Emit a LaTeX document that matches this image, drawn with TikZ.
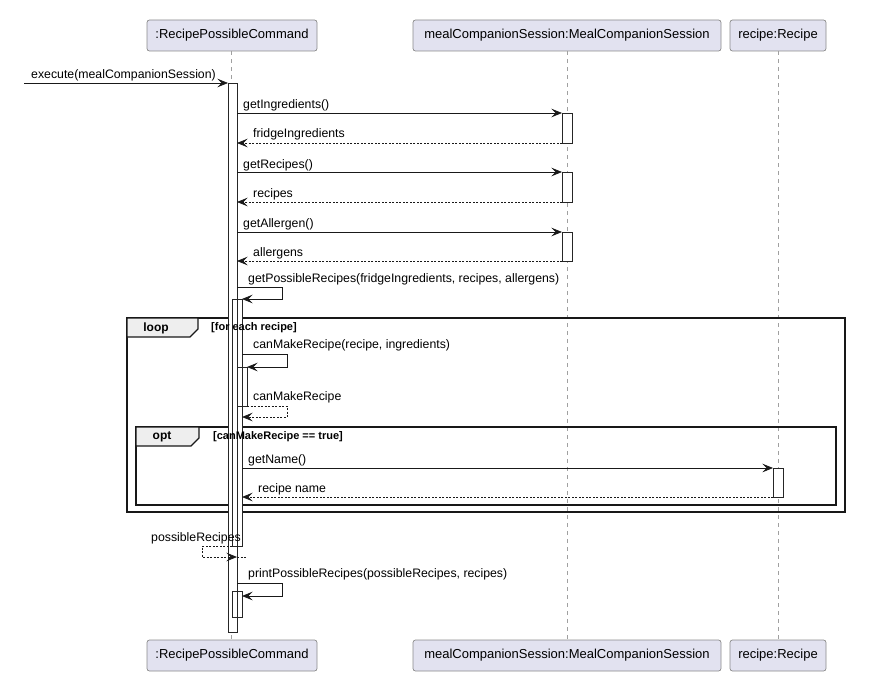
\documentclass[tikz,border=0pt]{standalone}
\usepackage{fontspec}
\setmainfont{Liberation Sans}
\usetikzlibrary{arrows.meta}
\definecolor{partfill}{HTML}{E2E2F0}
\definecolor{partline}{HTML}{8A8A8A}
\definecolor{lifecol}{HTML}{A0A0A0}
\definecolor{tabfill}{HTML}{EEEEEE}
\definecolor{framecol}{HTML}{181818}
\begin{document}
\begin{tikzpicture}[x=1pt,y=-1pt,
 part/.style={draw=partline, fill=partfill, rounded corners=2.5pt, minimum height=31pt, inner sep=0pt, font=\fontsize{13pt}{15pt}\selectfont, line width=0.7pt},
 life/.style={draw=lifecol, dash pattern=on 4pt off 4pt, line width=0.8pt},
 act/.style={fill=white, inner sep=0pt, outer sep=0pt, minimum width=10pt, anchor=north west},
 actline/.style={draw=black!85, line width=0.7pt},
 msg/.style={draw=black!90, line width=0.8pt, -{Stealth[length=10.5pt,width=8.5pt,inset=4pt]}},
 ret/.style={msg, dash pattern=on 2pt off 1.5pt},
 retline/.style={draw=black!90, line width=0.8pt, dash pattern=on 2pt off 1.5pt},
 lbl/.style={anchor=base west, inner sep=0pt, font=\fontsize{12.3pt}{14pt}\selectfont},
 fr/.style={draw=framecol, line width=1.4pt},
 tabshape/.style={fill=tabfill, draw=framecol, line width=1.4pt},
 frlbl/.style={inner sep=0pt, font=\bfseries\fontsize{12pt}{14pt}\selectfont},
 guard/.style={anchor=west, inner sep=0pt, font=\bfseries\fontsize{11pt}{13pt}\selectfont}
]
\useasboundingbox (0,0) rectangle (869,693);

% participants
\node[part, minimum width=170pt] (p1) at (232,35.5) {:RecipePossibleCommand};
\node[part, minimum width=308pt] (p2) at (567,35.5) {mealCompanionSession:MealCompanionSession};
\node[part, minimum width=96pt] (p3) at (778,35.5) {recipe:Recipe};
\node[part, minimum width=170pt] (q1) at (232,655.5) {:RecipePossibleCommand};
\node[part, minimum width=308pt] (q2) at (567,655.5) {mealCompanionSession:MealCompanionSession};
\node[part, minimum width=96pt] (q3) at (778,655.5) {recipe:Recipe};

% lifelines
\draw[life] ([xshift=-1pt]p1.south) -- ([xshift=-1pt]q1.north);
\draw[life] (p2.south) -- (q2.north);
\draw[life] (p3.south) -- (q3.north);

% frames
\draw[fr] (127,318) rectangle (845,512);
\draw[tabshape] (127,318) -- (198,318) -- (198,329) -- (190,337) -- (127,337) -- cycle;
\draw[fr] (136,427) rectangle (836,505);
\draw[tabshape] (136,427) -- (199,427) -- (199,438) -- (191,446) -- (136,446) -- cycle;

% activations
\node[act, minimum width=9pt, minimum height=549pt] (a1) at (228,83) {};
\node[act, minimum height=30pt] (a2) at (562,113) {};
\node[act, minimum height=30pt] (a3) at (562,172) {};
\node[act, minimum height=29pt] (a4) at (562,232) {};
\node[act, minimum height=247pt] (a5) at (232,299) {};
\node[act, minimum height=39pt] (a6) at (237,367) {};
\node[act, minimum height=29pt] (a7) at (773,468) {};
\node[act, minimum height=26pt] (a8) at (232,591) {};
\foreach \n in {a1,a2,a3,a4,a5,a6,a7,a8}
  \draw[actline] (\n.south west) rectangle (\n.north east);

% messages
\coordinate (src) at (24,83);
\draw[msg] (src) -- (a1.north west);
\draw[msg] (a1.east |- a2.north west) -- (a2.north west);
\draw[ret] (a2.south west) -- (a1.east |- a2.south west);
\draw[msg] (a1.east |- a3.north west) -- (a3.north west);
\draw[ret] (a3.south west) -- (a1.east |- a3.south west);
\draw[msg] (a1.east |- a4.north west) -- (a4.north west);
\draw[ret] (a4.south west) -- (a1.east |- a4.south west);
\draw[msg] ([yshift=12pt]a5.north east -| a1.east) -| ([xshift=40pt]a5.north east) -- (a5.north east);
\draw[msg] ([yshift=13pt]a6.north east -| a5.east) -| ([xshift=40pt]a6.north east) -- (a6.north east);
\draw[ret] (a6.south east) -| ([xshift=40pt,yshift=-11pt]a6.south east) -- ([yshift=-11pt]a6.south east -| a5.east);
\draw[msg] (a5.east |- a7.north west) -- (a7.north west);
\draw[ret] (a7.south west) -- (a5.east |- a7.south west);
\draw[ret] (a5.south west) -| ([xshift=-30pt,yshift=-11pt]a5.south west) -- ([yshift=-11pt]a5.south west -| a1.east);
\draw[retline] ([yshift=-11pt]a5.south west -| a1.east) -- ++(9,0);
\draw[msg] ([yshift=8pt]a8.north east -| a1.east) -| ([xshift=40pt,yshift=-5pt]a8.north east) -- ([yshift=-5pt]a8.north east);

% labels
\node[lbl] (l0) at (31,78) {execute(mealCompanionSession)};
\node[lbl] (l1) at (243,108) {getIngredients()};
\node[lbl] (l2) at (253,137) {fridgeIngredients};
\node[lbl] (l3) at (243,168) {getRecipes()};
\node[lbl] (l4) at (253,197) {recipes};
\node[lbl] (l5) at (243,227) {getAllergen()};
\node[lbl] (l6) at (253,256) {allergens};
\node[lbl] (l7) at (248,282) {getPossibleRecipes(fridgeIngredients, recipes, allergens)};
\node[lbl] (l8) at (253,348) {canMakeRecipe(recipe, ingredients)};
\node[lbl] (l9) at (253,400) {canMakeRecipe};
\node[lbl] (l10) at (248,463) {getName()};
\node[lbl] (l11) at (258,492) {recipe name};
\node[lbl] (l12) at (151,541) {possibleRecipes};
\node[lbl] (l13) at (248,577) {printPossibleRecipes(possibleRecipes, recipes)};

\node[frlbl] (looplbl) at (156,328) {loop};
\node[guard] (loopguard) at (211,328) {[for each recipe]};
\node[frlbl] (optlbl) at (162,436.5) {opt};
\node[guard] (optguard) at (213,436.5) {[canMakeRecipe == true]};
\end{tikzpicture}
\end{document}
